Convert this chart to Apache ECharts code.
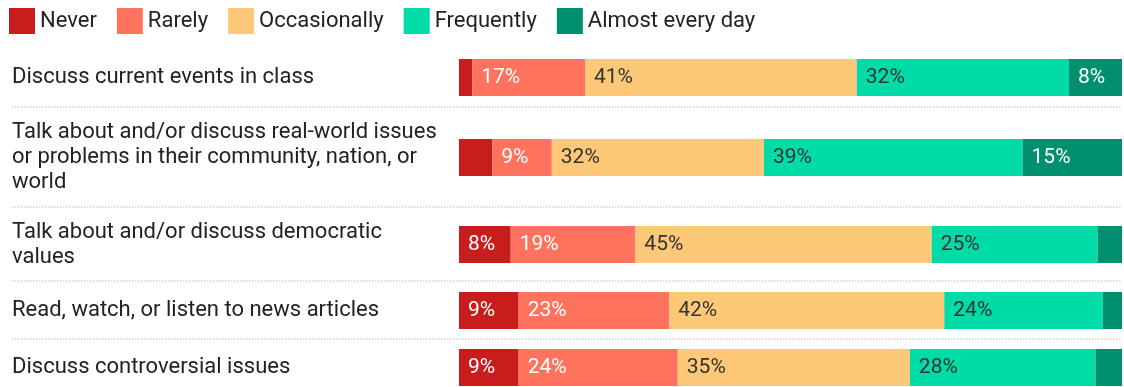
<!DOCTYPE html>
<html>
<head>
<meta charset="utf-8">
<script src="https://cdn.jsdelivr.net/npm/echarts@6/dist/echarts.min.js"></script>
<style>
  html,body{margin:0;padding:0;background:#fff;}
  #chart{width:1124px;height:387px;}
</style>
</head>
<body>
<div id="chart"></div>
<script>
// data (percent of respondents)
const categories = [
  'Discuss current events in class',
  'Talk about and/or discuss real-world issues\nor problems in their community, nation, or\nworld',
  'Talk about and/or discuss democratic\nvalues',
  'Read, watch, or listen to news articles',
  'Discuss controversial issues'
]
const seriesNames = ['Never', 'Rarely', 'Occasionally', 'Frequently', 'Almost every day']
const never = [2, 5, 7.8, 9, 9]
const rarely = [17, 9, 18.8, 22.7, 24]
const occasionally = [41, 32, 44.7, 41.5, 35]
const frequently = [32, 39, 25, 23.9, 28]
const almostEveryDay = [8, 15, 3.7, 2.9, 4]

const colors = ['#c71e1d', '#ff735e', '#fdc877', '#00dba8', '#00906f']
const labelColors = ['#fff', '#fff', '#333', '#333', '#fff']
const values = [never, rarely, occasionally, frequently, almostEveryDay]

// layout of each row (bar top in px), rows have different heights because of label wrapping
const rowTops = [59, 139, 226, 292, 349]
const barHeight = 37
const separators = [107, 207, 281, 339]

const chart = echarts.init(document.getElementById('chart'))

const grids = [], xAxes = [], yAxes = [], series = []
categories.forEach((cat, i) => {
  grids.push({left: 459, right: 2, top: rowTops[i], height: barHeight})
  xAxes.push({
    type: 'value', gridIndex: i, min: 0, max: 100,
    show: false
  })
  yAxes.push({
    type: 'category', gridIndex: i, data: [cat],
    axisLine: {show: false}, axisTick: {show: false},
    axisLabel: {
      align: 'left', margin: 447,
      padding: [9, 0, 0, 0],
      fontFamily: 'Roboto', fontSize: 22, color: '#222', lineHeight: 25
    }
  })
  seriesNames.forEach((name, k) => {
    series.push({
      name: name,
      type: 'bar',
      stack: 'row' + i,
      xAxisIndex: i,
      yAxisIndex: i,
      barWidth: barHeight,
      itemStyle: {color: colors[k]},
      label: {
        show: values[k][i] >= 7,
        position: 'insideLeft',
        distance: 9,
        fontFamily: 'Roboto',
        fontSize: 21,
        color: labelColors[k],
        formatter: p => Math.round(p.value) + '%'
      },
      emphasis: {disabled: true},
      data: [values[k][i]]
    })
  })
})

const graphic = separators.map(y => ({
  type: 'line',
  shape: {x1: 12, y1: y, x2: 1122, y2: y},
  style: {stroke: '#cfcfcf', lineWidth: 1.5, lineDash: [1.5, 1.5]},
  silent: true
}))

chart.setOption({
  animation: false,
  legend: {
    data: seriesNames,
    left: 4,
    top: 3,
    icon: 'rect',
    itemWidth: 26,
    itemHeight: 26,
    itemGap: 20,
    textStyle: {fontFamily: 'Roboto', fontSize: 22, color: '#222'},
    selectedMode: false
  },
  grid: grids,
  xAxis: xAxes,
  yAxis: yAxes,
  series: series,
  graphic: graphic
})
</script>
</body>
</html>
